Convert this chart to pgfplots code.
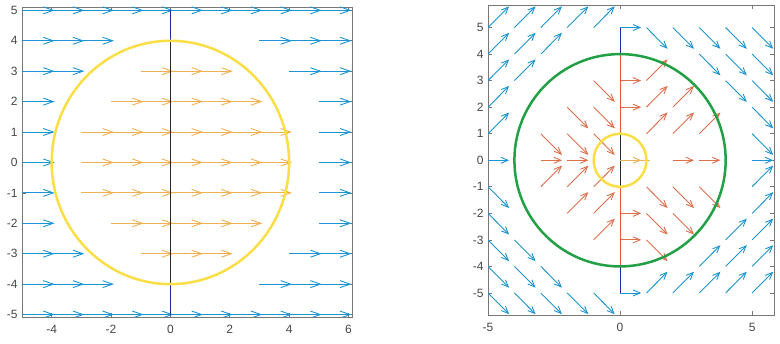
\documentclass[border=0pt]{standalone}
\usepackage{fontspec}
\setmainfont{Liberation Sans}
\usepackage{pgfplots}
\usepackage{pgfplotstable}
\pgfplotsset{compat=1.18}
\usetikzlibrary{arrows.meta}

\definecolor{qblue}{RGB}{28,148,210}
\definecolor{qorange}{RGB}{240,176,82}
\definecolor{qyellow}{RGB}{250,222,70}
\definecolor{qred}{RGB}{222,110,76}
\definecolor{qredline}{RGB}{232,85,55}
\definecolor{qgreen}{RGB}{35,160,70}
\definecolor{qnavy}{RGB}{25,45,160}
\definecolor{qblack}{RGB}{40,40,40}
\definecolor{axgray}{RGB}{120,120,120}
\definecolor{labgray}{RGB}{70,70,70}

% ---------- left panel (arrow length 1.1) ----------
\pgfplotstableread{
x y u v
-5 5 1.1 0
-4 5 1.1 0
-3 5 1.1 0
-2 5 1.1 0
-1 5 1.1 0
0 5 1.1 0
1 5 1.1 0
2 5 1.1 0
3 5 1.1 0
4 5 1.1 0
5 5 1.1 0
-5 4 1.1 0
-4 4 1.1 0
-3 4 1.1 0
3 4 1.1 0
4 4 1.1 0
5 4 1.1 0
-5 3 1.1 0
-4 3 1.1 0
4 3 1.1 0
5 3 1.1 0
-5 2 1.1 0
5 2 1.1 0
-5 1 1.1 0
5 1 1.1 0
-5 0 1.1 0
5 0 1.1 0
-5 -1 1.1 0
5 -1 1.1 0
-5 -2 1.1 0
5 -2 1.1 0
-5 -3 1.1 0
-4 -3 1.1 0
4 -3 1.1 0
5 -3 1.1 0
-5 -4 1.1 0
-4 -4 1.1 0
-3 -4 1.1 0
3 -4 1.1 0
4 -4 1.1 0
5 -4 1.1 0
-5 -5 1.1 0
-4 -5 1.1 0
-3 -5 1.1 0
-2 -5 1.1 0
-1 -5 1.1 0
0 -5 1.1 0
1 -5 1.1 0
2 -5 1.1 0
3 -5 1.1 0
4 -5 1.1 0
5 -5 1.1 0
}\leftblue

\pgfplotstableread{
x y u v
-1 3 1.1 0
0 3 1.1 0
1 3 1.1 0
-2 2 1.1 0
-1 2 1.1 0
0 2 1.1 0
1 2 1.1 0
2 2 1.1 0
-3 1 1.1 0
-2 1 1.1 0
-1 1 1.1 0
0 1 1.1 0
1 1 1.1 0
2 1 1.1 0
3 1 1.1 0
-3 0 1.1 0
-2 0 1.1 0
-1 0 1.1 0
0 0 1.1 0
1 0 1.1 0
2 0 1.1 0
3 0 1.1 0
-3 -1 1.1 0
-2 -1 1.1 0
-1 -1 1.1 0
0 -1 1.1 0
1 -1 1.1 0
2 -1 1.1 0
3 -1 1.1 0
-2 -2 1.1 0
-1 -2 1.1 0
0 -2 1.1 0
1 -2 1.1 0
2 -2 1.1 0
-1 -3 1.1 0
0 -3 1.1 0
1 -3 1.1 0
}\leftorange

% ---------- right panel (arrow components 0.8) ----------
\pgfplotstableread{
x y u v
-5 1 0.8 0.8
-5 2 0.8 0.8
-5 3 0.8 0.8
-4 3 0.8 0.8
-5 4 0.8 0.8
-4 4 0.8 0.8
-3 4 0.8 0.8
-5 5 0.8 0.8
-4 5 0.8 0.8
-3 5 0.8 0.8
-2 5 0.8 0.8
-1 5 0.8 0.8
5 1 0.8 -0.8
5 2 0.8 -0.8
5 3 0.8 -0.8
4 3 0.8 -0.8
5 4 0.8 -0.8
4 4 0.8 -0.8
3 4 0.8 -0.8
5 5 0.8 -0.8
4 5 0.8 -0.8
3 5 0.8 -0.8
2 5 0.8 -0.8
1 5 0.8 -0.8
-5 -1 0.8 -0.8
-5 -2 0.8 -0.8
-5 -3 0.8 -0.8
-4 -3 0.8 -0.8
-5 -4 0.8 -0.8
-4 -4 0.8 -0.8
-3 -4 0.8 -0.8
-5 -5 0.8 -0.8
-4 -5 0.8 -0.8
-3 -5 0.8 -0.8
-2 -5 0.8 -0.8
-1 -5 0.8 -0.8
5 -1 0.8 0.8
5 -2 0.8 0.8
5 -3 0.8 0.8
4 -3 0.8 0.8
5 -4 0.8 0.8
4 -4 0.8 0.8
3 -4 0.8 0.8
5 -5 0.8 0.8
4 -5 0.8 0.8
3 -5 0.8 0.8
2 -5 0.8 0.8
1 -5 0.8 0.8
-5 0 0.8 0
5 0 0.8 0
0 5 0.8 0
0 -5 0.8 0
}\rightblue

\pgfplotstableread{
x y u v
-3 1 0.8 -0.8
-2 1 0.8 -0.8
-1 1 0.8 -0.8
-2 2 0.8 -0.8
-1 2 0.8 -0.8
-1 3 0.8 -0.8
1 1 0.8 0.8
2 1 0.8 0.8
3 1 0.8 0.8
1 2 0.8 0.8
2 2 0.8 0.8
1 3 0.8 0.8
-3 -1 0.8 0.8
-2 -1 0.8 0.8
-1 -1 0.8 0.8
-2 -2 0.8 0.8
-1 -2 0.8 0.8
-1 -3 0.8 0.8
1 -1 0.8 -0.8
2 -1 0.8 -0.8
3 -1 0.8 -0.8
1 -2 0.8 -0.8
2 -2 0.8 -0.8
1 -3 0.8 -0.8
-3 0 0.8 0
-2 0 0.8 0
2 0 0.8 0
3 0 0.8 0
0 3 0.8 0
0 2 0.8 0
0 -2 0.8 0
0 -3 0.8 0
}\rightred

\pgfplotsset{
  matstyle/.style={
    scale only axis,
    anchor=south west,
    axis line style={draw=axgray, line width=0.7pt},
    tick style={draw=axgray, line width=0.6pt},
    tick align=inside,
    major tick length=4pt,
    ticklabel style={font=\fontsize{12}{14}\selectfont, text=labgray},
    xticklabel style={yshift=-5pt},
    yticklabel style={xshift=-1pt},
    /pgf/number format/assume math mode=true,
    clip=true,
  },
}

\begin{document}
\begin{tikzpicture}
\useasboundingbox (0,0) rectangle (780pt,344pt);

% ================= left =================
\begin{axis}[matstyle,
  at={(22pt,27pt)}, width=330pt, height=310pt,
  xmin=-5, xmax=6.12, ymin=-5.08, ymax=5.11,
  xtick={-4,-2,0,2,4,6}, ytick={-5,-4,-3,-2,-1,0,1,2,3,4,5},
]
\addplot[qblue, line width=0.9pt, -{Straight Barb[length=10pt,width=7pt]},
  quiver={u=\thisrow{u}, v=\thisrow{v}}] table[x=x,y=y] {\leftblue};
\addplot[qorange, line width=0.9pt, -{Straight Barb[length=10pt,width=7pt]},
  quiver={u=\thisrow{u}, v=\thisrow{v}}] table[x=x,y=y] {\leftorange};
\addplot[qnavy, line width=0.9pt] coordinates {(0,-5) (0,5)};
\addplot[qblack, line width=0.9pt] coordinates {(0,-4) (0,4)};
\draw[qyellow, line width=2.5pt] (axis cs:0,0) ellipse [x radius=4, y radius=4];
\end{axis}

% ================= right =================
\begin{axis}[matstyle,
  at={(488pt,29pt)}, width=286pt, height=310pt,
  xmin=-5, xmax=5.83, ymin=-5.83, ymax=5.85,
  xtick={-5,0,5}, ytick={-5,-4,-3,-2,-1,0,1,2,3,4,5},
]
\addplot[qblue, line width=0.9pt, -{Straight Barb[length=7pt,width=6pt]},
  quiver={u=\thisrow{u}, v=\thisrow{v}}] table[x=x,y=y] {\rightblue};
\addplot[qred, line width=0.9pt, -{Straight Barb[length=7pt,width=6pt]},
  quiver={u=\thisrow{u}, v=\thisrow{v}}] table[x=x,y=y] {\rightred};
\addplot[qnavy, line width=0.9pt] coordinates {(0,-5) (0,5)};
\addplot[qredline, line width=0.9pt] coordinates {(0,-4) (0,4)};
\addplot[qblack, line width=0.9pt] coordinates {(0,-1) (0,1)};
\addplot[qorange, line width=0.9pt] coordinates {(0,0) (1.12,0)};
\addplot[qorange, line width=0.9pt, -{Straight Barb[length=7pt,width=6pt]},
  quiver={u=\thisrow{u}, v=\thisrow{v}}] table {
x y u v
0 0 0.8 0
};
\draw[qgreen, line width=2.5pt] (axis cs:0,0) ellipse [x radius=4, y radius=4];
\draw[qyellow, line width=2.5pt] (axis cs:0,0) ellipse [x radius=1, y radius=1];
\end{axis}
\end{tikzpicture}
\end{document}
